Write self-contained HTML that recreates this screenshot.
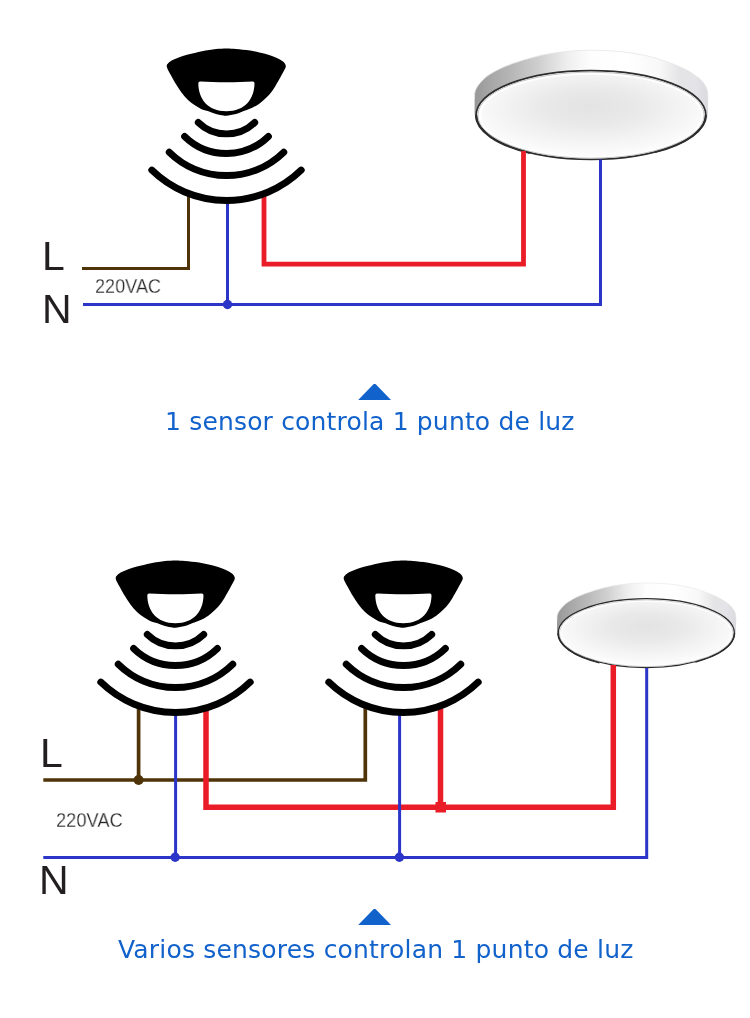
<!DOCTYPE html>
<html lang="es"><head><meta charset="utf-8"><title>Esquema de conexión</title>
<style>
html,body{margin:0;padding:0;background:#fff;}
body{width:750px;height:1018px;position:relative;overflow:hidden;font-family:"Liberation Sans",sans-serif;}
svg{position:absolute;left:0;top:0;display:block;}
.t{position:absolute;white-space:nowrap;line-height:1;margin:0;will-change:transform;}
.big{font-size:41px;color:#231f20;}
.vac{font-size:20px;color:#222;-webkit-text-stroke:0.28px #fff;transform:scaleX(.88);transform-origin:0 0;}
.cap{font-family:"DejaVu Sans","Liberation Sans",sans-serif;font-size:25px;color:#1262cc;letter-spacing:0.15px;}
</style></head><body>
<svg width="750" height="1018" viewBox="0 0 750 1018"><defs>
<linearGradient id="rim" x1="0" y1="0" x2="1" y2="0">
<stop offset="0" stop-color="#979797"/><stop offset="0.05" stop-color="#a3a3a3"/><stop offset="0.15" stop-color="#b5b5b5"/><stop offset="0.28" stop-color="#d0d0d0"/><stop offset="0.4" stop-color="#efefef"/><stop offset="0.5" stop-color="#fdfdfd"/><stop offset="0.65" stop-color="#ffffff"/><stop offset="0.79" stop-color="#f8f8f8"/><stop offset="0.88" stop-color="#e4e4e6"/><stop offset="0.95" stop-color="#e4e4e8"/><stop offset="1" stop-color="#dadade"/>
</linearGradient>
<radialGradient id="diff" cx="0.5" cy="0.42" r="0.62" fx="0.5" fy="0.38">
<stop offset="0" stop-color="#e3e3e3"/><stop offset="0.35" stop-color="#e9e9e9"/><stop offset="0.7" stop-color="#f5f5f5"/><stop offset="1" stop-color="#ffffff"/>
</radialGradient>
</defs><g transform="translate(0,0) scale(1,1)"><path d="M474.60,100.00 C474.63,98.83 474.50,94.97 474.80,93.00 C475.10,91.03 475.47,89.93 476.40,88.20 C477.33,86.47 478.80,84.47 480.40,82.60 C482.00,80.73 483.73,78.80 486.00,77.00 C488.27,75.20 491.33,73.33 494.00,71.80 C496.67,70.27 499.33,69.00 502.00,67.80 C504.67,66.60 507.33,65.60 510.00,64.60 C512.67,63.60 514.67,62.87 518.00,61.80 C521.33,60.73 525.50,59.40 530.00,58.20 C534.50,57.00 540.00,55.60 545.00,54.60 C550.00,53.60 555.00,52.83 560.00,52.20 C565.00,51.57 569.80,51.13 575.00,50.80 C580.20,50.47 585.87,50.23 591.20,50.20 C596.53,50.17 601.87,50.33 607.00,50.60 C612.13,50.87 617.00,51.25 622.00,51.80 C627.00,52.35 632.00,53.03 637.00,53.90 C642.00,54.77 647.05,55.70 652.00,57.00 C656.95,58.30 661.58,59.85 666.70,61.70 C671.82,63.55 678.27,66.05 682.70,68.10 C687.13,70.15 690.10,71.87 693.30,74.00 C696.50,76.13 699.67,78.50 701.90,80.90 C704.13,83.30 705.72,86.08 706.70,88.40 C707.68,90.72 707.58,92.70 707.80,94.80 C708.02,96.90 707.97,99.97 708.00,101.00 L708,113 A116.7,46 0 0 1 474.6,113 Z" fill="url(#rim)"/><path d="M474.60,100.00 C474.63,98.83 474.50,94.97 474.80,93.00 C475.10,91.03 475.47,89.93 476.40,88.20 C477.33,86.47 478.80,84.47 480.40,82.60 C482.00,80.73 483.73,78.80 486.00,77.00 C488.27,75.20 491.33,73.33 494.00,71.80 C496.67,70.27 499.33,69.00 502.00,67.80 C504.67,66.60 507.33,65.60 510.00,64.60 C512.67,63.60 514.67,62.87 518.00,61.80 C521.33,60.73 525.50,59.40 530.00,58.20 C534.50,57.00 540.00,55.60 545.00,54.60 C550.00,53.60 555.00,52.83 560.00,52.20 C565.00,51.57 569.80,51.13 575.00,50.80 C580.20,50.47 585.87,50.23 591.20,50.20 C596.53,50.17 601.87,50.33 607.00,50.60 C612.13,50.87 617.00,51.25 622.00,51.80 C627.00,52.35 632.00,53.03 637.00,53.90 C642.00,54.77 647.05,55.70 652.00,57.00 C656.95,58.30 661.58,59.85 666.70,61.70 C671.82,63.55 678.27,66.05 682.70,68.10 C687.13,70.15 690.10,71.87 693.30,74.00 C696.50,76.13 699.67,78.50 701.90,80.90 C704.13,83.30 705.72,86.08 706.70,88.40 C707.68,90.72 707.58,92.70 707.80,94.80 C708.02,96.90 707.97,99.97 708.00,101.00 " fill="none" stroke="#e6e6e6" stroke-width="0.8"/><ellipse cx="591.0" cy="115" rx="114.8" ry="44.4" fill="#fff" stroke="#2c2c2e" stroke-width="1.7"/><path d="M476.2,115 A114.8,44.4 0 0 0 530,152.8" fill="none" stroke="#2c2c2e" stroke-width="2.6"/><path d="M705.8,115 A114.8,44.4 0 0 1 655,152" fill="none" stroke="#2c2c2e" stroke-width="2.3"/><ellipse cx="591.0" cy="115.2" rx="113.1" ry="43" fill="none" stroke="#c4c4c4" stroke-width="1"/><ellipse cx="591.0" cy="115.6" rx="110" ry="41" fill="url(#diff)"/></g><g fill="none" stroke-linejoin="miter"><path d="M82,268.5 H188.5 V194" stroke="#4f3409" stroke-width="3"/><path d="M264,194 V264.2 H523.5 V151" stroke="#e91c27" stroke-width="4.8"/><path d="M83,304.5 H600.5 V159.5 M227.5,198 V304.5" stroke="#2b35c8" stroke-width="3"/></g><circle cx="227.5" cy="304.5" r="4.7" fill="#2b35c8"/><g transform="translate(0,0)"><path d="M226.40,48.40 C223.07,48.42 220.07,48.53 216.00,49.00 C211.93,49.47 206.67,50.27 202.00,51.20 C197.33,52.13 191.88,53.55 188.00,54.60 C184.12,55.65 181.35,56.55 178.70,57.50 C176.05,58.45 173.82,59.37 172.10,60.30 C170.38,61.23 169.30,62.17 168.40,63.10 C167.50,64.03 166.78,64.80 166.70,65.90 C166.62,67.00 167.15,68.07 167.90,69.70 C168.65,71.33 169.87,73.30 171.20,75.70 C172.53,78.10 174.18,81.30 175.90,84.10 C177.62,86.90 179.48,89.85 181.50,92.50 C183.52,95.15 185.83,97.90 188.00,100.00 C190.17,102.10 192.32,103.62 194.50,105.10 C196.68,106.58 198.77,107.88 201.10,108.90 C203.43,109.92 206.02,110.35 208.50,111.20 C210.98,112.05 213.50,113.28 216.00,114.00 C218.50,114.72 221.77,115.22 223.50,115.50 C225.23,115.78 224.32,115.95 226.40,115.70 C228.48,115.45 232.85,114.85 236.00,114.00 C239.15,113.15 242.50,111.68 245.30,110.60 C248.10,109.52 250.47,108.65 252.80,107.50 C255.13,106.35 257.12,105.27 259.30,103.70 C261.48,102.13 263.72,100.27 265.90,98.10 C268.08,95.93 270.38,93.47 272.40,90.70 C274.42,87.93 276.28,84.47 278.00,81.50 C279.72,78.53 281.60,74.90 282.70,72.90 C283.80,70.90 284.08,70.67 284.60,69.50 C285.12,68.33 285.93,67.10 285.80,65.90 C285.67,64.70 284.78,63.38 283.80,62.30 C282.82,61.22 281.65,60.35 279.90,59.40 C278.15,58.45 275.95,57.57 273.30,56.60 C270.65,55.63 267.88,54.62 264.00,53.60 C260.12,52.58 254.67,51.28 250.00,50.50 C245.33,49.72 239.93,49.25 236.00,48.90 C232.07,48.55 229.73,48.38 226.40,48.40 Z" fill="#000"/><path d="M198.3,83.3 Q198.3,81.5 200.3,81.6 C215,82.6 238,82.6 252.5,81.6 Q254.5,81.5 254.5,83.3 C254.3,99 245,111.3 226.4,111.3 C207.8,111.3 198.5,99 198.3,83.3 Z" fill="#fff"/><g fill="none" stroke="#000" stroke-width="6.9" stroke-linecap="round"><path d="M198.28,122.41 A40.4,40.4 0 0 0 254.72,122.41"/><path d="M184.60,136.44 A60,60 0 0 0 268.40,136.44"/><path d="M169.23,152.19 A82,82 0 0 0 283.77,152.19"/><path d="M151.77,170.08 A107,107 0 0 0 301.23,170.08"/></g></g><g transform="translate(193.0,544.0) scale(0.767,0.775)"><path d="M474.60,100.00 C474.63,98.83 474.50,94.97 474.80,93.00 C475.10,91.03 475.47,89.93 476.40,88.20 C477.33,86.47 478.80,84.47 480.40,82.60 C482.00,80.73 483.73,78.80 486.00,77.00 C488.27,75.20 491.33,73.33 494.00,71.80 C496.67,70.27 499.33,69.00 502.00,67.80 C504.67,66.60 507.33,65.60 510.00,64.60 C512.67,63.60 514.67,62.87 518.00,61.80 C521.33,60.73 525.50,59.40 530.00,58.20 C534.50,57.00 540.00,55.60 545.00,54.60 C550.00,53.60 555.00,52.83 560.00,52.20 C565.00,51.57 569.80,51.13 575.00,50.80 C580.20,50.47 585.87,50.23 591.20,50.20 C596.53,50.17 601.87,50.33 607.00,50.60 C612.13,50.87 617.00,51.25 622.00,51.80 C627.00,52.35 632.00,53.03 637.00,53.90 C642.00,54.77 647.05,55.70 652.00,57.00 C656.95,58.30 661.58,59.85 666.70,61.70 C671.82,63.55 678.27,66.05 682.70,68.10 C687.13,70.15 690.10,71.87 693.30,74.00 C696.50,76.13 699.67,78.50 701.90,80.90 C704.13,83.30 705.72,86.08 706.70,88.40 C707.68,90.72 707.58,92.70 707.80,94.80 C708.02,96.90 707.97,99.97 708.00,101.00 L708,113 A116.7,46 0 0 1 474.6,113 Z" fill="url(#rim)"/><path d="M474.60,100.00 C474.63,98.83 474.50,94.97 474.80,93.00 C475.10,91.03 475.47,89.93 476.40,88.20 C477.33,86.47 478.80,84.47 480.40,82.60 C482.00,80.73 483.73,78.80 486.00,77.00 C488.27,75.20 491.33,73.33 494.00,71.80 C496.67,70.27 499.33,69.00 502.00,67.80 C504.67,66.60 507.33,65.60 510.00,64.60 C512.67,63.60 514.67,62.87 518.00,61.80 C521.33,60.73 525.50,59.40 530.00,58.20 C534.50,57.00 540.00,55.60 545.00,54.60 C550.00,53.60 555.00,52.83 560.00,52.20 C565.00,51.57 569.80,51.13 575.00,50.80 C580.20,50.47 585.87,50.23 591.20,50.20 C596.53,50.17 601.87,50.33 607.00,50.60 C612.13,50.87 617.00,51.25 622.00,51.80 C627.00,52.35 632.00,53.03 637.00,53.90 C642.00,54.77 647.05,55.70 652.00,57.00 C656.95,58.30 661.58,59.85 666.70,61.70 C671.82,63.55 678.27,66.05 682.70,68.10 C687.13,70.15 690.10,71.87 693.30,74.00 C696.50,76.13 699.67,78.50 701.90,80.90 C704.13,83.30 705.72,86.08 706.70,88.40 C707.68,90.72 707.58,92.70 707.80,94.80 C708.02,96.90 707.97,99.97 708.00,101.00 " fill="none" stroke="#e6e6e6" stroke-width="0.8"/><ellipse cx="591.0" cy="115" rx="114.8" ry="44.4" fill="#fff" stroke="#2c2c2e" stroke-width="1.7"/><path d="M476.2,115 A114.8,44.4 0 0 0 530,152.8" fill="none" stroke="#2c2c2e" stroke-width="2.6"/><path d="M705.8,115 A114.8,44.4 0 0 1 655,152" fill="none" stroke="#2c2c2e" stroke-width="2.3"/><ellipse cx="591.0" cy="115.2" rx="113.1" ry="43" fill="none" stroke="#c4c4c4" stroke-width="1"/><ellipse cx="591.0" cy="115.6" rx="110" ry="41" fill="url(#diff)"/></g><g fill="none" stroke-linejoin="miter"><path d="M43.3,780 H365.3 V706 M138.6,706 V780" stroke="#4f3409" stroke-width="3.7"/><path d="M206,706 V807.2 H613.3 V665 M440.5,706 V807.2" stroke="#e91c27" stroke-width="5.5"/><path d="M43.3,857.6 H646.7 V668 M175.6,710 V857.6 M399.6,710 V857.6" stroke="#2b35c8" stroke-width="3"/></g><circle cx="138.6" cy="780" r="5" fill="#4f3409"/><rect x="435.5" y="802" width="10.5" height="10.5" fill="#e91c27"/><circle cx="175.2" cy="857.2" r="4.7" fill="#2b35c8"/><circle cx="399.4" cy="857.2" r="4.7" fill="#2b35c8"/><g transform="translate(-51,512)"><path d="M226.40,48.40 C223.07,48.42 220.07,48.53 216.00,49.00 C211.93,49.47 206.67,50.27 202.00,51.20 C197.33,52.13 191.88,53.55 188.00,54.60 C184.12,55.65 181.35,56.55 178.70,57.50 C176.05,58.45 173.82,59.37 172.10,60.30 C170.38,61.23 169.30,62.17 168.40,63.10 C167.50,64.03 166.78,64.80 166.70,65.90 C166.62,67.00 167.15,68.07 167.90,69.70 C168.65,71.33 169.87,73.30 171.20,75.70 C172.53,78.10 174.18,81.30 175.90,84.10 C177.62,86.90 179.48,89.85 181.50,92.50 C183.52,95.15 185.83,97.90 188.00,100.00 C190.17,102.10 192.32,103.62 194.50,105.10 C196.68,106.58 198.77,107.88 201.10,108.90 C203.43,109.92 206.02,110.35 208.50,111.20 C210.98,112.05 213.50,113.28 216.00,114.00 C218.50,114.72 221.77,115.22 223.50,115.50 C225.23,115.78 224.32,115.95 226.40,115.70 C228.48,115.45 232.85,114.85 236.00,114.00 C239.15,113.15 242.50,111.68 245.30,110.60 C248.10,109.52 250.47,108.65 252.80,107.50 C255.13,106.35 257.12,105.27 259.30,103.70 C261.48,102.13 263.72,100.27 265.90,98.10 C268.08,95.93 270.38,93.47 272.40,90.70 C274.42,87.93 276.28,84.47 278.00,81.50 C279.72,78.53 281.60,74.90 282.70,72.90 C283.80,70.90 284.08,70.67 284.60,69.50 C285.12,68.33 285.93,67.10 285.80,65.90 C285.67,64.70 284.78,63.38 283.80,62.30 C282.82,61.22 281.65,60.35 279.90,59.40 C278.15,58.45 275.95,57.57 273.30,56.60 C270.65,55.63 267.88,54.62 264.00,53.60 C260.12,52.58 254.67,51.28 250.00,50.50 C245.33,49.72 239.93,49.25 236.00,48.90 C232.07,48.55 229.73,48.38 226.40,48.40 Z" fill="#000"/><path d="M198.3,83.3 Q198.3,81.5 200.3,81.6 C215,82.6 238,82.6 252.5,81.6 Q254.5,81.5 254.5,83.3 C254.3,99 245,111.3 226.4,111.3 C207.8,111.3 198.5,99 198.3,83.3 Z" fill="#fff"/><g fill="none" stroke="#000" stroke-width="6.9" stroke-linecap="round"><path d="M198.28,122.41 A40.4,40.4 0 0 0 254.72,122.41"/><path d="M184.60,136.44 A60,60 0 0 0 268.40,136.44"/><path d="M169.23,152.19 A82,82 0 0 0 283.77,152.19"/><path d="M151.77,170.08 A107,107 0 0 0 301.23,170.08"/></g></g><g transform="translate(177,512)"><path d="M226.40,48.40 C223.07,48.42 220.07,48.53 216.00,49.00 C211.93,49.47 206.67,50.27 202.00,51.20 C197.33,52.13 191.88,53.55 188.00,54.60 C184.12,55.65 181.35,56.55 178.70,57.50 C176.05,58.45 173.82,59.37 172.10,60.30 C170.38,61.23 169.30,62.17 168.40,63.10 C167.50,64.03 166.78,64.80 166.70,65.90 C166.62,67.00 167.15,68.07 167.90,69.70 C168.65,71.33 169.87,73.30 171.20,75.70 C172.53,78.10 174.18,81.30 175.90,84.10 C177.62,86.90 179.48,89.85 181.50,92.50 C183.52,95.15 185.83,97.90 188.00,100.00 C190.17,102.10 192.32,103.62 194.50,105.10 C196.68,106.58 198.77,107.88 201.10,108.90 C203.43,109.92 206.02,110.35 208.50,111.20 C210.98,112.05 213.50,113.28 216.00,114.00 C218.50,114.72 221.77,115.22 223.50,115.50 C225.23,115.78 224.32,115.95 226.40,115.70 C228.48,115.45 232.85,114.85 236.00,114.00 C239.15,113.15 242.50,111.68 245.30,110.60 C248.10,109.52 250.47,108.65 252.80,107.50 C255.13,106.35 257.12,105.27 259.30,103.70 C261.48,102.13 263.72,100.27 265.90,98.10 C268.08,95.93 270.38,93.47 272.40,90.70 C274.42,87.93 276.28,84.47 278.00,81.50 C279.72,78.53 281.60,74.90 282.70,72.90 C283.80,70.90 284.08,70.67 284.60,69.50 C285.12,68.33 285.93,67.10 285.80,65.90 C285.67,64.70 284.78,63.38 283.80,62.30 C282.82,61.22 281.65,60.35 279.90,59.40 C278.15,58.45 275.95,57.57 273.30,56.60 C270.65,55.63 267.88,54.62 264.00,53.60 C260.12,52.58 254.67,51.28 250.00,50.50 C245.33,49.72 239.93,49.25 236.00,48.90 C232.07,48.55 229.73,48.38 226.40,48.40 Z" fill="#000"/><path d="M198.3,83.3 Q198.3,81.5 200.3,81.6 C215,82.6 238,82.6 252.5,81.6 Q254.5,81.5 254.5,83.3 C254.3,99 245,111.3 226.4,111.3 C207.8,111.3 198.5,99 198.3,83.3 Z" fill="#fff"/><g fill="none" stroke="#000" stroke-width="6.9" stroke-linecap="round"><path d="M198.28,122.41 A40.4,40.4 0 0 0 254.72,122.41"/><path d="M184.60,136.44 A60,60 0 0 0 268.40,136.44"/><path d="M169.23,152.19 A82,82 0 0 0 283.77,152.19"/><path d="M151.77,170.08 A107,107 0 0 0 301.23,170.08"/></g></g><path d="M358.2,400 L373.7,384 L375.5,384 L391,400 Z" fill="#1262cc"/><path d="M358.2,925 L373.7,909 L375.5,909 L391,925 Z" fill="#1262cc"/></svg>
<div class="t big" id="L1" style="left:42.2px;top:235.6px;">L</div>
<div class="t big" id="N1" style="left:42.2px;top:288.5px;">N</div>
<div class="t vac" id="V1" style="left:95.2px;top:276px;transform:scaleX(.905)">220VAC</div>
<div class="t cap" id="C1" style="left:165.4px;top:408.6px;letter-spacing:0.17px">1 sensor controla 1 punto de luz</div>
<div class="t big" id="L2" style="left:39.8px;top:733.3px;">L</div>
<div class="t big" id="N2" style="left:39.2px;top:860px;">N</div>
<div class="t vac" id="V2" style="left:56px;top:810.2px;transform:scaleX(.915)">220VAC</div>
<div class="t cap" id="C2" style="left:118.2px;top:937.3px;letter-spacing:0.19px">Varios sensores controlan 1 punto de luz</div>
</body></html>
